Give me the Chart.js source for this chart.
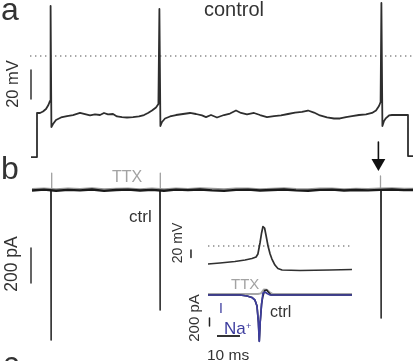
<!DOCTYPE html>
<html>
<head>
<meta charset="utf-8">
<script src="https://cdn.jsdelivr.net/npm/chart.js@4.4.1/dist/chart.umd.min.js"></script>
<style>
  body { margin: 0; background: #fff; }
  #wrap { position: relative; width: 413px; height: 361px; overflow: hidden; font-family: 'Liberation Sans', Arial, sans-serif; color: #333; }
  #fig { position: absolute; left: 0; top: 0; }
  .lbl { position: absolute; line-height: 1; white-space: nowrap; }
  .rot { transform: translate(-50%, -50%) rotate(-90deg); }
</style>
</head>
<body>
<div id="wrap">
  <canvas id="fig" width="413" height="361"></canvas>
  <span class="lbl" style="left:1px;top:-7px;font-size:32px">a</span>
  <span class="lbl" style="left:1px;top:152px;font-size:32px">b</span>
  <span class="lbl" style="left:3px;top:347px;font-size:32px">c</span>
  <span class="lbl" style="left:204px;top:-1px;font-size:20px">control</span>
  <span class="lbl rot" style="left:12px;top:84px;font-size:16.5px">20 mV</span>
  <span class="lbl" style="left:112px;top:169px;font-size:16px;color:#a3a3a3">TTX</span>
  <span class="lbl" style="left:129px;top:208px;font-size:17px">ctrl</span>
  <span class="lbl rot" style="left:12px;top:264px;font-size:17.5px">200 pA</span>
  <span class="lbl rot" style="left:177px;top:243px;font-size:14px">20 mV</span>
  <span class="lbl rot" style="left:193px;top:318px;font-size:15px">200 pA</span>
  <span class="lbl" style="left:231px;top:276px;font-size:15px;color:#a3a3a3">TTX</span>
  <span class="lbl" style="left:270px;top:304px;font-size:16px">ctrl</span>
  <span class="lbl" style="left:219px;top:301px;font-size:14px;color:#3d3d9e">I</span>
  <span class="lbl" style="left:224px;top:320px;font-size:17px;color:#3d3d9e">Na</span>
  <span class="lbl" style="left:246px;top:322px;font-size:9px;color:#3d3d9e">+</span>
  <span class="lbl" style="left:207px;top:347px;font-size:15.5px">10 ms</span>
</div>
<script>
// ---- panel a: membrane potential (time in ms, mV)
const vmTime = [155,185,185,200,215,230,242,250,253,257,265,280,305,335,365,400,430,450,475,500,
  520,540,565,585,610,635,665,695,720,740,760,780,792,797,802,810,825,850,880,915,
  950,980,1010,1030,1055,1085,1120,1150,1180,1205,1235,1270,1300,1335,1370,1405,1440,1475,1510,1540,
  1570,1600,1635,1670,1700,1730,1760,1795,1830,1860,1880,1895,1903,1907,1912,1920,1930,1945,1960,2040,
  2040,2065];
const vmValue = [-69.7,-69.7,-39.3,-39.3,-38.3,-36.6,-33.8,-31.0,34.5,-49.0,-46.9,-44.1,-42.4,-41.4,-40.7,-39.3,-40.3,-41.0,-40.3,-40.7,
  -39.3,-40.3,-40.0,-41.7,-42.1,-42.4,-42.1,-41.7,-40.7,-39.3,-37.6,-35.5,-33.1,32.4,-48.3,-45.5,-43.1,-41.7,-40.7,-40.0,
  -39.3,-40.0,-41.0,-42.1,-40.7,-42.4,-40.7,-39.7,-37.6,-39.3,-40.3,-39.3,-40.7,-42.1,-41.4,-41.0,-40.0,-39.0,-38.6,-37.6,
  -39.0,-41.0,-42.4,-43.1,-43.1,-42.1,-41.4,-40.7,-40.3,-39.3,-37.6,-34.5,-31.7,36.6,-48.3,-44.8,-42.8,-41.0,-40.7,-40.7,
  -69.0,-69.0];
const zeroLineA = [150, 2065];

// ---- panel b: holding current (time in ms, pA)
const baseTime = [160,220,280,340,400,460,520,580,640,700,760,820,880,940,1000,1060,1120,1180,1240,1300,
  1360,1420,1480,1540,1600,1660,1720,1780,1840,1900,1960,2020,2065];
const ctrlBase = [-3,2,-4,1,-2,3,-5,0,2,-3,1,-4,2,-1,3,-2,-5,1,2,-3,0,3,-2,-4,1,2,-3,0,-2,1,3,-1,0];
const ttxBase = [6,9,5,8,6,10,4,7,9,5,8,5,9,6,10,7,4,8,9,5,7,10,6,5,8,9,5,7,6,8,10,7,7];
const ctrlPeakTime = [255, 800, 1905];
const ctrlPeakValue = [-857, -686, -731];
const ttxTickTime = [258, 801, 1902];
const ttxTickValue = [97, 97, 80];
const arrowTime = 1892;
const arrowFrom = 274, arrowTo = 154;

// ---- inset (time in ms from sweep start)
const inVmTime = [0,5.2,11.7,16.1,19.1,20.9,21.7,22.6,23.3,23.9,24.6,25.2,26.1,27.0,27.8,29.1,30.4,32.2,40.0,53.0,62.6];
const inVmValue = [-48.0,-45.3,-41.3,-37.3,-33.3,-29.3,-21.3,8.0,34.7,52.0,48.0,29.3,0,-21.3,-34.7,-50.7,-60.0,-64.0,-65.3,-64.0,-62.7];
const inZeroLine = [0, 62.6];
const inaTime = [0,13.9,17.0,19.1,20.4,21.3,21.9,22.3,22.7,23.3,23.9,24.8,25.7,27.0,62.6];
const inaValue = [0,0,-25,-62,-125,-275,-675,-1162,-675,-225,50,75,37,0,0];
const inCtrlTime = [0,13.9,17.0,19.1,20.4,21.3,21.9,22.3,22.7,23.3,23.8,24.6,25.5,26.2,27.4,62.6];
const inCtrlValue = [0,0,-25,-62,-125,-275,-675,-1150,-675,-225,-50,110,125,75,0,0];
const inTtxTime = [0,21.7,23.0,24.3,25.6,26.9,28.2,62.6];
const inTtxValue = [25,25,40,140,135,70,25,25];

// scale bars
const barA = { t: 155, from: -9.7, size: 20 };      // 20 mV
const barB = { t: 155, from: -331, size: 200 };     // 200 pA
const barInV = { t: -7.4, from: -10.7, size: 20 };  // 20 mV
const barInI = { t: 0.65, from: -575, size: 200 };  // 200 pA
const barInT = { level: -1025, from: 3.9, size: 10 }; // 10 ms

const W = 413, H = 361;

function pts(xs, ys) {
    return xs.map((x, i) => ({ x: x, y: ys[i] }));
}

// narrow transients drawn as separate strokes
function ticks(ts, vs, half) {
    const out = [];
    ts.forEach((t, i) => {
        out.push({ x: t - half, y: 0 }, { x: t, y: vs[i] }, { x: t + half, y: 0 }, { x: t, y: null });
    });
    return out;
}

function xRange(zeroPx, perPx) {
    return { min: -zeroPx * perPx, max: (W - zeroPx) * perPx };
}
function yRange(zeroPx, perPx) {
    return { min: -(H - zeroPx) * perPx, max: zeroPx * perPx };
}

const line = (extra) => Object.assign({
    pointRadius: 0,
    borderWidth: 1.5,
    fill: false,
    tension: 0,
    borderJoinStyle: 'round',
    spanGaps: false,
}, extra);

const ctx = document.getElementById('fig').getContext('2d');

new Chart(ctx, {
    type: 'line',
    data: {
        datasets: [
            // panel a
            line({ data: pts(zeroLineA, [0, 0]), xAxisID: 'xa', yAxisID: 'ya', borderColor: '#8a8a8a', borderDash: [1.4, 3.6], order: 5 }),
            line({ data: pts(vmTime, vmValue), xAxisID: 'xa', yAxisID: 'ya', borderColor: '#2e2e2e', borderWidth: 1.8, order: 2 }),
            line({ data: pts([barA.t, barA.t], [barA.from, barA.from - barA.size]), xAxisID: 'xa', yAxisID: 'ya', borderColor: '#333' }),

            // panel b
            line({ data: pts(baseTime, ttxBase), xAxisID: 'xa', yAxisID: 'yb', borderColor: '#9a9a9a', borderWidth: 2, order: 4 }),
            line({ data: ticks(ttxTickTime, ttxTickValue, 1), xAxisID: 'xa', yAxisID: 'yb', borderColor: '#a0a0a0', borderWidth: 1.3, order: 4 }),
            line({ data: pts(baseTime, ctrlBase), xAxisID: 'xa', yAxisID: 'yb', borderColor: '#1a1a1a', borderWidth: 2.4, order: 3 }),
            line({ data: ticks(ctrlPeakTime, ctrlPeakValue, 1.5), xAxisID: 'xa', yAxisID: 'yb', borderColor: '#3a3a3a', borderWidth: 1.4, order: 3 }),
            line({ data: pts([barB.t, barB.t], [barB.from, barB.from - barB.size]), xAxisID: 'xa', yAxisID: 'yb', borderColor: '#333' }),
            line({ data: pts([arrowTime, arrowTime], [arrowFrom, arrowTo]), xAxisID: 'xa', yAxisID: 'yb', borderColor: '#111', borderWidth: 1.6 }),
            {
                data: pts([arrowTime], [arrowTo]), xAxisID: 'xa', yAxisID: 'yb', showLine: false,
                pointStyle: 'triangle', pointRadius: 8, pointRotation: 180,
                pointBackgroundColor: '#111', pointBorderWidth: 0,
            },

            // inset
            line({ data: pts(inZeroLine, [0, 0]), xAxisID: 'xi', yAxisID: 'yiV', borderColor: '#8a8a8a', borderDash: [1.4, 3.6], order: 5 }),
            line({ data: pts(inVmTime, inVmValue), xAxisID: 'xi', yAxisID: 'yiV', borderColor: '#303030', borderWidth: 1.7, order: 2 }),
            line({ data: pts(inTtxTime, inTtxValue), xAxisID: 'xi', yAxisID: 'yiI', borderColor: '#a8a8a8', borderWidth: 1.8, order: 3 }),
            line({ data: pts(inCtrlTime, inCtrlValue), xAxisID: 'xi', yAxisID: 'yiI', borderColor: '#222', borderWidth: 1.6, order: 2 }),
            line({ data: pts(inaTime, inaValue), xAxisID: 'xi', yAxisID: 'yiI', borderColor: '#3d3d9e', borderWidth: 1.7, order: 1 }),
            line({ data: pts([barInV.t, barInV.t], [barInV.from, barInV.from - barInV.size]), xAxisID: 'xi', yAxisID: 'yiV', borderColor: '#222' }),
            line({ data: pts([barInI.t, barInI.t], [barInI.from, barInI.from - barInI.size]), xAxisID: 'xi', yAxisID: 'yiI', borderColor: '#222' }),
            line({ data: pts([barInT.from, barInT.from + barInT.size], [barInT.level, barInT.level]), xAxisID: 'xi', yAxisID: 'yiI', borderColor: '#333', borderWidth: 2 }),
        ],
    },
    options: {
        responsive: false,
        animation: false,
        devicePixelRatio: 1,
        events: [],
        layout: { padding: 0, autoPadding: false },
        plugins: {
            legend: { display: false },
            tooltip: { enabled: false },
        },
        scales: {
            xa: Object.assign({ type: 'linear', display: false }, xRange(0, 5)),
            ya: Object.assign({ type: 'linear', display: false }, yRange(56, 20 / 29)),
            yb: Object.assign({ type: 'linear', display: false }, yRange(190, 200 / 35)),
            xi: Object.assign({ type: 'linear', display: false }, xRange(208, 10 / 23)),
            yiV: Object.assign({ type: 'linear', display: false }, yRange(246, 20 / 7.5)),
            yiI: Object.assign({ type: 'linear', display: false }, yRange(295, 200 / 8)),
        },
    },
});
</script>
</body>
</html>
